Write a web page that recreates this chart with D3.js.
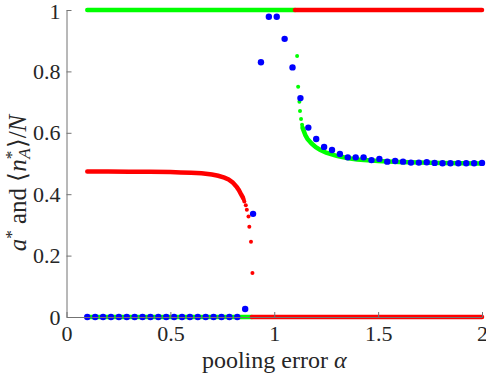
<!DOCTYPE html>
<html>
<head>
<meta charset="utf-8">
<script src="https://cdn.jsdelivr.net/npm/d3@7"></script>
<style>
  body { margin: 0; background: #fff; }
  svg { display: block; }
</style>
</head>
<body>
<div id="chart"></div>
<script>
// theory: constant branches at 0 and 1 ([alpha start, alpha end, value, colour])
var flatSegments = [
    [0.1, 1.1, 1, 'green'],
    [1.1, 2.0, 1, 'red'],
    [0.1, 0.892, 0, 'green'],
    [0.892, 2.0, 0, 'red']
];

// red branch (dense part)
var redAlpha = [0.1, 0.2, 0.3, 0.4, 0.5, 0.55, 0.6, 0.65, 0.7, 0.73, 0.76, 0.78, 0.8, 0.81, 0.82, 0.83, 0.84, 0.85];
var redValue = [0.474, 0.474, 0.473, 0.473, 0.472, 0.471, 0.470, 0.468, 0.464, 0.460, 0.454, 0.448, 0.438, 0.431, 0.423, 0.413, 0.400, 0.388];
// red branch (sparse tail)
var redTailAlpha = [0.853, 0.856, 0.863, 0.868, 0.876, 0.880, 0.888, 0.895];
var redTailValue = [0.383, 0.376, 0.364, 0.349, 0.327, 0.294, 0.245, 0.143];

// green branch (sparse head then dense)
var greenHeadAlpha = [1.110, 1.115, 1.121, 1.124, 1.129, 1.134];
var greenHeadValue = [0.850, 0.750, 0.701, 0.671, 0.645, 0.626];
var greenAlpha = [1.136, 1.15, 1.16, 1.18, 1.2, 1.22, 1.25, 1.3, 1.35, 1.4, 1.5, 1.6, 1.7, 1.8, 1.9, 2.0];
var greenValue = [0.617, 0.592, 0.580, 0.565, 0.553, 0.545, 0.535, 0.525, 0.518, 0.513, 0.508, 0.505, 0.503, 0.502, 0.501, 0.500];

// simulation (blue dots)
var simAlpha = [0.1, 0.138, 0.176, 0.214, 0.252, 0.29, 0.328, 0.366, 0.404, 0.442,
    0.48, 0.518, 0.556, 0.594, 0.632, 0.67, 0.708, 0.746, 0.784, 0.822,
    0.86, 0.898, 0.936, 0.974, 1.012, 1.05, 1.088, 1.126, 1.164, 1.202,
    1.24, 1.278, 1.316, 1.354, 1.392, 1.43, 1.468, 1.506, 1.544, 1.582,
    1.62, 1.658, 1.696, 1.734, 1.772, 1.81, 1.848, 1.886, 1.924, 1.962, 2.0];
var simValue = [0, 0, 0, 0, 0, 0, 0, 0, 0, 0,
    0, 0, 0, 0, 0, 0, 0, 0, 0, 0,
    0.026, 0.336, 0.830, 0.978, 0.978, 0.906, 0.813, 0.713, 0.617, 0.580,
    0.554, 0.544, 0.531, 0.520, 0.520, 0.520, 0.511, 0.515, 0.506, 0.508,
    0.506, 0.503, 0.503, 0.504, 0.502, 0.501, 0.501, 0.501, 0.501, 0.501, 0.502];

var xTicks = [0, 0.5, 1, 1.5, 2];
var yTicks = [0, 0.2, 0.4, 0.6, 0.8, 1];

var width = 486, height = 376;
var colors = { red: '#ff0000', green: '#00ff00', blue: '#0000ff' };
var axisColor = '#737373', textColor = '#262626';

// pick the first serif face that is really installed
function pickFont(list) {
    var ctx = document.createElement('canvas').getContext('2d');
    var probe = 'pooling error 0.123456789';
    ctx.font = '40px monospace';
    var base = ctx.measureText(probe).width;
    for (var i = 0; i < list.length; i++) {
        ctx.font = '40px "' + list[i] + '", monospace';
        if (Math.abs(ctx.measureText(probe).width - base) > 0.5) return '"' + list[i] + '"';
    }
    return 'serif';
}
var serif = pickFont(['Liberation Serif', 'DejaVu Serif', 'Noto Serif', 'Tinos',
    'Times New Roman', 'FreeSerif', 'Nimbus Roman', 'Noto Serif CJK SC']) + ', serif';

var svg = d3.select('#chart').append('svg')
    .attr('width', width)
    .attr('height', height);

var x = d3.scaleLinear().domain([0, 2]).range([66.5, 482]);
var y = d3.scaleLinear().domain([0, 1]).range([317, 10]);

var zip = (a, b) => a.map((d, i) => [d, b[i]]);
var line = d3.line().x(d => x(d[0])).y(d => y(d[1]));

var plot = svg.append('g');

// flat branches
plot.selectAll('.flat')
    .data(flatSegments)
    .enter().append('path')
        .attr('class', 'flat')
        .attr('d', d => line([[d[0], d[2]], [d[1], d[2]]]))
        .attr('stroke', d => colors[d[3]])
        .attr('stroke-width', 4.5)
        .attr('stroke-linecap', 'round')
        .attr('fill', 'none');

// red curve
plot.append('path')
    .attr('d', line(zip(redAlpha, redValue)))
    .attr('stroke', colors.red)
    .attr('stroke-width', 4.5)
    .attr('stroke-linecap', 'round')
    .attr('fill', 'none');
plot.selectAll('.redTail')
    .data(zip(redTailAlpha, redTailValue))
    .enter().append('circle')
        .attr('class', 'redTail')
        .attr('cx', d => x(d[0]))
        .attr('cy', d => y(d[1]))
        .attr('r', 2)
        .attr('fill', colors.red);

// green curve
plot.append('path')
    .attr('d', line(zip(greenAlpha, greenValue)))
    .attr('stroke', colors.green)
    .attr('stroke-width', 4.5)
    .attr('stroke-linecap', 'round')
    .attr('fill', 'none');
plot.selectAll('.greenHead')
    .data(zip(greenHeadAlpha, greenHeadValue))
    .enter().append('circle')
        .attr('class', 'greenHead')
        .attr('cx', d => x(d[0]))
        .attr('cy', d => y(d[1]))
        .attr('r', 2)
        .attr('fill', colors.green);

// simulation
plot.selectAll('.sim')
    .data(zip(simAlpha, simValue))
    .enter().append('circle')
        .attr('class', 'sim')
        .attr('cx', d => x(d[0]))
        .attr('cy', d => y(d[1]))
        .attr('r', 3.2)
        .attr('fill', colors.blue);

// axes (MATLAB style, ticks inward, box off)
var xAxis = svg.append('g')
    .attr('transform', 'translate(0,' + y(0) + ')')
    .call(d3.axisBottom(x).tickValues(xTicks).tickSizeInner(-5).tickSizeOuter(0)
        .tickPadding(8).tickFormat(d3.format('')));
var yAxis = svg.append('g')
    .attr('transform', 'translate(' + x(0) + ',0)')
    .call(d3.axisLeft(y).tickValues(yTicks).tickSizeInner(-5).tickSizeOuter(0)
        .tickPadding(6).tickFormat(d3.format('')));

[xAxis, yAxis].forEach(function(ax) {
    ax.attr('font-family', null).attr('font-size', null);
    ax.select('.domain').attr('stroke', axisColor);
    ax.selectAll('.tick line').attr('stroke', axisColor);
    ax.selectAll('.tick text')
        .attr('fill', textColor)
        .style('font-family', serif)
        .style('font-size', '22px');
});
yAxis.selectAll('.tick text').filter(d => d === 1).attr('dy', '0.4em');

// x label
var xLabel = svg.append('text')
    .attr('x', x(1))
    .attr('y', 368)
    .attr('text-anchor', 'middle')
    .attr('fill', textColor)
    .style('font-family', serif)
    .style('font-size', '24px');
xLabel.append('tspan').text('pooling error ');
xLabel.append('tspan').style('font-style', 'italic').text('α');

// y label
var yLabel = svg.append('text')
    .attr('transform', 'translate(26,' + 183 + ') rotate(-90)')
    .attr('text-anchor', 'middle')
    .attr('fill', textColor)
    .style('font-family', serif)
    .style('font-size', '25px');
yLabel.append('tspan').style('font-style', 'italic').text('a');
yLabel.append('tspan').attr('dy', -9).style('font-size', '17px').text('*');
yLabel.append('tspan').attr('dy', 9).text(' and ⟨');
yLabel.append('tspan').style('font-style', 'italic').text('n');
yLabel.append('tspan').attr('dy', -9).style('font-size', '17px').text('*');
yLabel.append('tspan').attr('dy', 13).attr('dx', -8).style('font-size', '17px')
    .style('font-style', 'italic').text('A');
yLabel.append('tspan').attr('dy', -4).text('⟩/');
yLabel.append('tspan').style('font-style', 'italic').text('N');
</script>
</body>
</html>
